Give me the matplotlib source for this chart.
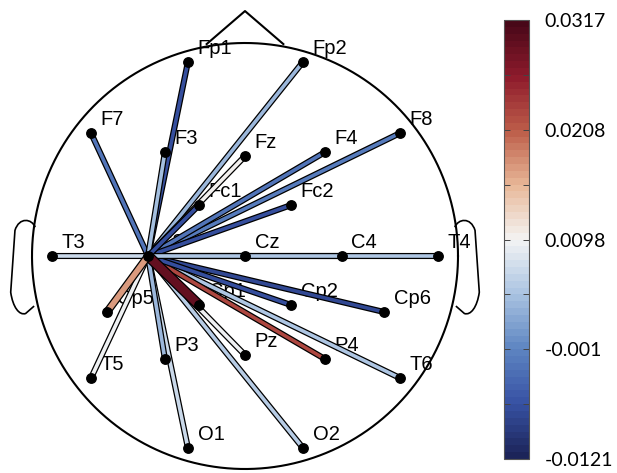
import numpy as np
import matplotlib
matplotlib.use("Agg")
import matplotlib.pyplot as plt
import matplotlib.patheffects as pe
from matplotlib.colors import Normalize, LinearSegmentedColormap
from matplotlib.path import Path
from matplotlib.patches import PathPatch

# electrode layout (head radius = 1, centre at origin)
names = ["Fp1", "Fp2", "F7", "F3", "Fz", "F4", "F8", "Fc1", "Fc2",
         "T3", "C3", "Cz", "C4", "T4", "Cp5", "Cp1", "Cp2", "Cp6",
         "T5", "P3", "Pz", "P4", "T6", "O1", "O2"]
xs = [-0.268, 0.272, -0.723, -0.376, 0.0, 0.376, 0.728, -0.216, 0.216,
      -0.906, -0.455, 0.0, 0.455, 0.906, -0.648, -0.216, 0.216, 0.653,
      -0.723, -0.376, 0.0, 0.376, 0.728, -0.268, 0.272]
ys = [0.911, 0.911, 0.577, 0.488, 0.469, 0.488, 0.577, 0.239, 0.239,
      0.0, 0.0, 0.0, 0.0, 0.0, -0.263, -0.230, -0.230, -0.263,
      -0.573, -0.484, -0.465, -0.484, -0.573, -0.901, -0.901]

# connection strength from C3 to every other electrode
seed = "C3"
targets = ["Fp1", "Fp2", "F7", "F3", "Fz", "F4", "F8", "Fc1", "Fc2",
           "T3", "Cz", "C4", "T4", "Cp5", "Cp1", "Cp2", "Cp6",
           "T5", "P3", "Pz", "P4", "T6", "O1", "O2"]
values = [-0.0072, 0.0035, -0.0030, 0.0040, 0.0098, -0.0030, -0.0025, -0.0072, -0.0068,
          0.0065, 0.0045, 0.0045, 0.0050, 0.0172, 0.0290, -0.0072, -0.0078,
          0.0092, 0.0030, 0.0094, 0.0225, 0.0045, 0.0068, 0.0055]

vmin, vmax = -0.0121, 0.0317
cbar_labels = ["-0.0121", "-0.001", "0.0098", "0.0208", "0.0317"]

pos = {n: (x, y) for n, x, y in zip(names, xs, ys)}
cmap = LinearSegmentedColormap.from_list(
    "bwr_img",
    [(0.0, "#1c2459"), (0.125, "#3853a5"), (0.25, "#5f86c2"), (0.375, "#aac4e2"),
     (0.5, "#f4f4f4"), (0.625, "#e8b898"), (0.75, "#bd5e4a"), (0.875, "#8e1b2c"),
     (1.0, "#480818")], N=64)
norm = Normalize(vmin=vmin, vmax=vmax)

fig = plt.figure(figsize=(6.17, 4.73), dpi=100)
ax = fig.add_axes([0, 0, 490 / 617, 1])
ax.set_xlim(-245 / 213, 245 / 213)
ax.set_ylim(-217 / 213, 256 / 213)
ax.axis("off")

# head outline, nose, ears
t = np.linspace(0, 2 * np.pi, 400)
ax.plot(np.cos(t), np.sin(t), color="black", lw=1.5, zorder=1)
ax.plot([-0.18, 0.0, 0.18], [0.995, 1.150, 0.995], color="black", lw=1.5, zorder=1)
ear = [(-0.985, 0.135), (-1.00, 0.175), (-1.06, 0.185), (-1.08, 0.12),
       (-1.10, -0.17),
       (-1.09, -0.24), (-1.06, -0.28), (-1.03, -0.27),
       (-0.99, -0.235)]
codes = [Path.MOVETO, Path.CURVE4, Path.CURVE4, Path.CURVE4, Path.LINETO,
         Path.CURVE4, Path.CURVE4, Path.CURVE4, Path.LINETO]
for sgn in (1, -1):
    verts = [(sgn * x, y) for x, y in ear]
    ax.add_patch(PathPatch(Path(verts, codes), fill=False, ec="black", lw=1.2, zorder=1))

# labels sit under the lines
for n in names:
    x, y = pos[n]
    ax.text(x + 0.045, y + 0.064, n, fontsize=14.5, family="Liberation Sans",
            ha="left", va="center", zorder=2)

# connection lines, longest first so short ones sit on top
thick = {"Cp1": 6.0, "Cp5": 4.0}
sx, sy = pos[seed]
order = sorted(range(len(targets)),
               key=lambda i: -np.hypot(pos[targets[i]][0] - sx, pos[targets[i]][1] - sy))
for i in order:
    tx, ty = pos[targets[i]]
    w = thick.get(targets[i], 2.6)
    ax.plot([sx, tx], [sy, ty], color=cmap(norm(values[i])), lw=w,
            solid_capstyle="butt", zorder=3,
            path_effects=[pe.Stroke(linewidth=w + 1.8, foreground="black"), pe.Normal()])

ax.plot(xs, ys, "o", color="black", ms=6.8, zorder=4)

# colour bar
cax = fig.add_axes([504 / 617, 14 / 473, 25 / 617, 439 / 473])
sm = plt.cm.ScalarMappable(norm=norm, cmap=cmap)
cb = fig.colorbar(sm, cax=cax)
cb.outline.set_linewidth(0.8)
cb.outline.set_edgecolor("#555555")
ticks = np.linspace(vmin, vmax, 9)
cb.set_ticks(ticks)
cb.set_ticklabels([cbar_labels[k // 2] if k % 2 == 0 else "" for k in range(9)])
cax.yaxis.set_ticks_position("both")
cax.tick_params(axis="y", direction="in", length=4, width=0.7, color="#444444",
                pad=11, labelsize=14, labelleft=False, labelright=True)
for lab in cax.get_yticklabels():
    lab.set_family("Lato")

fig.savefig("out.png", dpi=100)
